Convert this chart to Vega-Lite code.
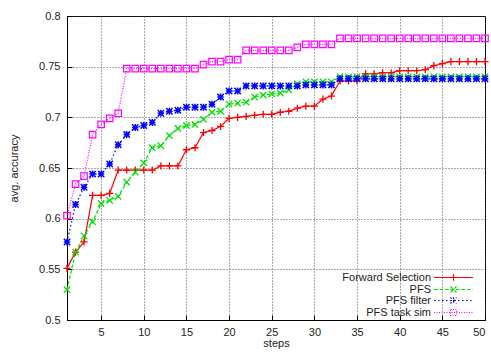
{
  "$schema": "https://vega.github.io/schema/vega-lite/v6.json",
  "width": 418,
  "height": 304,
  "autosize": "none",
  "padding": {"left": 67, "top": 16, "right": 6, "bottom": 36},
  "background": "white",
  "config": {
    "font": "Liberation Sans",
    "view": {"stroke": "black", "strokeWidth": 1},
    "axis": {
      "labelFont": "Liberation Sans",
      "labelFontSize": 11,
      "labelColor": "#222",
      "titleFont": "Liberation Sans",
      "titleFontSize": 11,
      "titleFontWeight": "normal",
      "titleColor": "#222",
      "domainColor": "black",
      "tickColor": "black",
      "tickSize": -5,
      "gridColor": "#444",
      "gridDash": [1, 2],
      "gridOpacity": 0.9,
      "gridWidth": 1
    },
    "legend": {
      "orient": "none",
      "legendX": 381,
      "legendY": 256,
      "padding": 0,
      "labelFont": "Liberation Sans",
      "labelFontSize": 11,
      "labelColor": "#222",
      "labelAlign": "right",
      "labelOffset": -28,
      "symbolOffset": 0,
      "rowPadding": -1.2,
      "symbolSize": 36,
      "symbolStrokeWidth": 1.2,
      "symbolFillColor": "transparent"
    }
  },
  "data": {
    "values": [
      {"step": 1, "series": "Forward Selection", "acc": 0.551},
      {"step": 2, "series": "Forward Selection", "acc": 0.567},
      {"step": 3, "series": "Forward Selection", "acc": 0.577},
      {"step": 4, "series": "Forward Selection", "acc": 0.623},
      {"step": 5, "series": "Forward Selection", "acc": 0.623},
      {"step": 6, "series": "Forward Selection", "acc": 0.625},
      {"step": 7, "series": "Forward Selection", "acc": 0.648},
      {"step": 8, "series": "Forward Selection", "acc": 0.648},
      {"step": 9, "series": "Forward Selection", "acc": 0.648},
      {"step": 10, "series": "Forward Selection", "acc": 0.648},
      {"step": 11, "series": "Forward Selection", "acc": 0.648},
      {"step": 12, "series": "Forward Selection", "acc": 0.652},
      {"step": 13, "series": "Forward Selection", "acc": 0.652},
      {"step": 14, "series": "Forward Selection", "acc": 0.652},
      {"step": 15, "series": "Forward Selection", "acc": 0.668},
      {"step": 16, "series": "Forward Selection", "acc": 0.670},
      {"step": 17, "series": "Forward Selection", "acc": 0.685},
      {"step": 18, "series": "Forward Selection", "acc": 0.687},
      {"step": 19, "series": "Forward Selection", "acc": 0.691},
      {"step": 20, "series": "Forward Selection", "acc": 0.699},
      {"step": 21, "series": "Forward Selection", "acc": 0.700},
      {"step": 22, "series": "Forward Selection", "acc": 0.701},
      {"step": 23, "series": "Forward Selection", "acc": 0.702},
      {"step": 24, "series": "Forward Selection", "acc": 0.703},
      {"step": 25, "series": "Forward Selection", "acc": 0.703},
      {"step": 26, "series": "Forward Selection", "acc": 0.705},
      {"step": 27, "series": "Forward Selection", "acc": 0.706},
      {"step": 28, "series": "Forward Selection", "acc": 0.709},
      {"step": 29, "series": "Forward Selection", "acc": 0.711},
      {"step": 30, "series": "Forward Selection", "acc": 0.711},
      {"step": 31, "series": "Forward Selection", "acc": 0.718},
      {"step": 32, "series": "Forward Selection", "acc": 0.721},
      {"step": 33, "series": "Forward Selection", "acc": 0.736},
      {"step": 34, "series": "Forward Selection", "acc": 0.736},
      {"step": 35, "series": "Forward Selection", "acc": 0.736},
      {"step": 36, "series": "Forward Selection", "acc": 0.743},
      {"step": 37, "series": "Forward Selection", "acc": 0.743},
      {"step": 38, "series": "Forward Selection", "acc": 0.744},
      {"step": 39, "series": "Forward Selection", "acc": 0.744},
      {"step": 40, "series": "Forward Selection", "acc": 0.746},
      {"step": 41, "series": "Forward Selection", "acc": 0.746},
      {"step": 42, "series": "Forward Selection", "acc": 0.746},
      {"step": 43, "series": "Forward Selection", "acc": 0.747},
      {"step": 44, "series": "Forward Selection", "acc": 0.751},
      {"step": 45, "series": "Forward Selection", "acc": 0.753},
      {"step": 46, "series": "Forward Selection", "acc": 0.755},
      {"step": 47, "series": "Forward Selection", "acc": 0.755},
      {"step": 48, "series": "Forward Selection", "acc": 0.755},
      {"step": 49, "series": "Forward Selection", "acc": 0.755},
      {"step": 50, "series": "Forward Selection", "acc": 0.755},

      {"step": 1, "series": "PFS", "acc": 0.530},
      {"step": 2, "series": "PFS", "acc": 0.567},
      {"step": 3, "series": "PFS", "acc": 0.583},
      {"step": 4, "series": "PFS", "acc": 0.597},
      {"step": 5, "series": "PFS", "acc": 0.615},
      {"step": 6, "series": "PFS", "acc": 0.618},
      {"step": 7, "series": "PFS", "acc": 0.622},
      {"step": 8, "series": "PFS", "acc": 0.636},
      {"step": 9, "series": "PFS", "acc": 0.646},
      {"step": 10, "series": "PFS", "acc": 0.655},
      {"step": 11, "series": "PFS", "acc": 0.670},
      {"step": 12, "series": "PFS", "acc": 0.672},
      {"step": 13, "series": "PFS", "acc": 0.682},
      {"step": 14, "series": "PFS", "acc": 0.689},
      {"step": 15, "series": "PFS", "acc": 0.692},
      {"step": 16, "series": "PFS", "acc": 0.693},
      {"step": 17, "series": "PFS", "acc": 0.698},
      {"step": 18, "series": "PFS", "acc": 0.705},
      {"step": 19, "series": "PFS", "acc": 0.706},
      {"step": 20, "series": "PFS", "acc": 0.713},
      {"step": 21, "series": "PFS", "acc": 0.714},
      {"step": 22, "series": "PFS", "acc": 0.715},
      {"step": 23, "series": "PFS", "acc": 0.720},
      {"step": 24, "series": "PFS", "acc": 0.722},
      {"step": 25, "series": "PFS", "acc": 0.723},
      {"step": 26, "series": "PFS", "acc": 0.724},
      {"step": 27, "series": "PFS", "acc": 0.727},
      {"step": 28, "series": "PFS", "acc": 0.733},
      {"step": 29, "series": "PFS", "acc": 0.735},
      {"step": 30, "series": "PFS", "acc": 0.735},
      {"step": 31, "series": "PFS", "acc": 0.735},
      {"step": 32, "series": "PFS", "acc": 0.735},
      {"step": 33, "series": "PFS", "acc": 0.740},
      {"step": 34, "series": "PFS", "acc": 0.740},
      {"step": 35, "series": "PFS", "acc": 0.740},
      {"step": 36, "series": "PFS", "acc": 0.740},
      {"step": 37, "series": "PFS", "acc": 0.740},
      {"step": 38, "series": "PFS", "acc": 0.740},
      {"step": 39, "series": "PFS", "acc": 0.740},
      {"step": 40, "series": "PFS", "acc": 0.740},
      {"step": 41, "series": "PFS", "acc": 0.740},
      {"step": 42, "series": "PFS", "acc": 0.740},
      {"step": 43, "series": "PFS", "acc": 0.740},
      {"step": 44, "series": "PFS", "acc": 0.740},
      {"step": 45, "series": "PFS", "acc": 0.740},
      {"step": 46, "series": "PFS", "acc": 0.740},
      {"step": 47, "series": "PFS", "acc": 0.740},
      {"step": 48, "series": "PFS", "acc": 0.740},
      {"step": 49, "series": "PFS", "acc": 0.740},
      {"step": 50, "series": "PFS", "acc": 0.740},

      {"step": 1, "series": "PFS filter", "acc": 0.577},
      {"step": 2, "series": "PFS filter", "acc": 0.614},
      {"step": 3, "series": "PFS filter", "acc": 0.631},
      {"step": 4, "series": "PFS filter", "acc": 0.644},
      {"step": 5, "series": "PFS filter", "acc": 0.644},
      {"step": 6, "series": "PFS filter", "acc": 0.654},
      {"step": 7, "series": "PFS filter", "acc": 0.673},
      {"step": 8, "series": "PFS filter", "acc": 0.683},
      {"step": 9, "series": "PFS filter", "acc": 0.690},
      {"step": 10, "series": "PFS filter", "acc": 0.692},
      {"step": 11, "series": "PFS filter", "acc": 0.695},
      {"step": 12, "series": "PFS filter", "acc": 0.704},
      {"step": 13, "series": "PFS filter", "acc": 0.706},
      {"step": 14, "series": "PFS filter", "acc": 0.707},
      {"step": 15, "series": "PFS filter", "acc": 0.710},
      {"step": 16, "series": "PFS filter", "acc": 0.710},
      {"step": 17, "series": "PFS filter", "acc": 0.710},
      {"step": 18, "series": "PFS filter", "acc": 0.713},
      {"step": 19, "series": "PFS filter", "acc": 0.720},
      {"step": 20, "series": "PFS filter", "acc": 0.726},
      {"step": 21, "series": "PFS filter", "acc": 0.726},
      {"step": 22, "series": "PFS filter", "acc": 0.731},
      {"step": 23, "series": "PFS filter", "acc": 0.731},
      {"step": 24, "series": "PFS filter", "acc": 0.731},
      {"step": 25, "series": "PFS filter", "acc": 0.731},
      {"step": 26, "series": "PFS filter", "acc": 0.731},
      {"step": 27, "series": "PFS filter", "acc": 0.731},
      {"step": 28, "series": "PFS filter", "acc": 0.731},
      {"step": 29, "series": "PFS filter", "acc": 0.732},
      {"step": 30, "series": "PFS filter", "acc": 0.732},
      {"step": 31, "series": "PFS filter", "acc": 0.732},
      {"step": 32, "series": "PFS filter", "acc": 0.732},
      {"step": 33, "series": "PFS filter", "acc": 0.738},
      {"step": 34, "series": "PFS filter", "acc": 0.738},
      {"step": 35, "series": "PFS filter", "acc": 0.738},
      {"step": 36, "series": "PFS filter", "acc": 0.738},
      {"step": 37, "series": "PFS filter", "acc": 0.738},
      {"step": 38, "series": "PFS filter", "acc": 0.738},
      {"step": 39, "series": "PFS filter", "acc": 0.738},
      {"step": 40, "series": "PFS filter", "acc": 0.738},
      {"step": 41, "series": "PFS filter", "acc": 0.738},
      {"step": 42, "series": "PFS filter", "acc": 0.738},
      {"step": 43, "series": "PFS filter", "acc": 0.738},
      {"step": 44, "series": "PFS filter", "acc": 0.738},
      {"step": 45, "series": "PFS filter", "acc": 0.738},
      {"step": 46, "series": "PFS filter", "acc": 0.738},
      {"step": 47, "series": "PFS filter", "acc": 0.738},
      {"step": 48, "series": "PFS filter", "acc": 0.738},
      {"step": 49, "series": "PFS filter", "acc": 0.738},
      {"step": 50, "series": "PFS filter", "acc": 0.738},

      {"step": 1, "series": "PFS task sim", "acc": 0.603},
      {"step": 2, "series": "PFS task sim", "acc": 0.634},
      {"step": 3, "series": "PFS task sim", "acc": 0.642},
      {"step": 4, "series": "PFS task sim", "acc": 0.683},
      {"step": 5, "series": "PFS task sim", "acc": 0.693},
      {"step": 6, "series": "PFS task sim", "acc": 0.699},
      {"step": 7, "series": "PFS task sim", "acc": 0.704},
      {"step": 8, "series": "PFS task sim", "acc": 0.748},
      {"step": 9, "series": "PFS task sim", "acc": 0.748},
      {"step": 10, "series": "PFS task sim", "acc": 0.748},
      {"step": 11, "series": "PFS task sim", "acc": 0.748},
      {"step": 12, "series": "PFS task sim", "acc": 0.748},
      {"step": 13, "series": "PFS task sim", "acc": 0.748},
      {"step": 14, "series": "PFS task sim", "acc": 0.748},
      {"step": 15, "series": "PFS task sim", "acc": 0.748},
      {"step": 16, "series": "PFS task sim", "acc": 0.748},
      {"step": 17, "series": "PFS task sim", "acc": 0.752},
      {"step": 18, "series": "PFS task sim", "acc": 0.755},
      {"step": 19, "series": "PFS task sim", "acc": 0.755},
      {"step": 20, "series": "PFS task sim", "acc": 0.757},
      {"step": 21, "series": "PFS task sim", "acc": 0.757},
      {"step": 22, "series": "PFS task sim", "acc": 0.766},
      {"step": 23, "series": "PFS task sim", "acc": 0.766},
      {"step": 24, "series": "PFS task sim", "acc": 0.766},
      {"step": 25, "series": "PFS task sim", "acc": 0.766},
      {"step": 26, "series": "PFS task sim", "acc": 0.766},
      {"step": 27, "series": "PFS task sim", "acc": 0.766},
      {"step": 28, "series": "PFS task sim", "acc": 0.769},
      {"step": 29, "series": "PFS task sim", "acc": 0.772},
      {"step": 30, "series": "PFS task sim", "acc": 0.772},
      {"step": 31, "series": "PFS task sim", "acc": 0.772},
      {"step": 32, "series": "PFS task sim", "acc": 0.772},
      {"step": 33, "series": "PFS task sim", "acc": 0.778},
      {"step": 34, "series": "PFS task sim", "acc": 0.778},
      {"step": 35, "series": "PFS task sim", "acc": 0.778},
      {"step": 36, "series": "PFS task sim", "acc": 0.778},
      {"step": 37, "series": "PFS task sim", "acc": 0.778},
      {"step": 38, "series": "PFS task sim", "acc": 0.778},
      {"step": 39, "series": "PFS task sim", "acc": 0.778},
      {"step": 40, "series": "PFS task sim", "acc": 0.778},
      {"step": 41, "series": "PFS task sim", "acc": 0.778},
      {"step": 42, "series": "PFS task sim", "acc": 0.778},
      {"step": 43, "series": "PFS task sim", "acc": 0.778},
      {"step": 44, "series": "PFS task sim", "acc": 0.778},
      {"step": 45, "series": "PFS task sim", "acc": 0.778},
      {"step": 46, "series": "PFS task sim", "acc": 0.778},
      {"step": 47, "series": "PFS task sim", "acc": 0.778},
      {"step": 48, "series": "PFS task sim", "acc": 0.778},
      {"step": 49, "series": "PFS task sim", "acc": 0.778},
      {"step": 50, "series": "PFS task sim", "acc": 0.778}
    ]
  },
  "encoding": {
    "x": {
      "field": "step",
      "type": "quantitative",
      "scale": {"domain": [1, 50], "nice": false, "zero": false},
      "axis": {
        "title": "steps",
        "values": [5, 10, 15, 20, 25, 30, 35, 40, 45, 50],
        "labelPadding": 11,
        "titlePadding": 0,
        "grid": true
      }
    },
    "y": {
      "field": "acc",
      "type": "quantitative",
      "scale": {"domain": [0.5, 0.8], "nice": false, "zero": false},
      "axis": {
        "title": "avg. accuracy",
        "values": [0.5, 0.55, 0.6, 0.65, 0.7, 0.75, 0.8],
        "format": ".2~f",
        "labelPadding": 12,
        "titlePadding": 19,
        "grid": true
      }
    },
    "color": {
      "field": "series",
      "type": "nominal",
      "scale": {
        "domain": ["Forward Selection", "PFS", "PFS filter", "PFS task sim"],
        "range": ["#ff0000", "#00e000", "#0000ff", "#ff00ff"]
      },
      "legend": {
        "title": null,
        "symbolType": "M-6.5,0H6.5",
        "encode": {
          "symbols": {
            "update": {
              "shape": {"signal": "datum.value === 'Forward Selection' ? 'M-6.5,0H6.5M0,-1.1V1.1' : datum.value === 'PFS' ? 'M-6.5,0H6.5M-1,-1L1,1M-1,1L1,-1' : datum.value === 'PFS filter' ? 'M-6.5,0H6.5M-1,0H1M0,-1.1V1.1M-1,-1L1,1M-1,1L1,-1' : 'M-6.5,0H6.5M-1,-1H1V1H-1Z'"},
              "fill": {"value": "transparent"}
            }
          }
        }
      }
    },
    "strokeDash": {
      "field": "series",
      "type": "nominal",
      "scale": {
        "domain": ["Forward Selection", "PFS", "PFS filter", "PFS task sim"],
        "range": [[1, 0], [3.5, 2], [1.5, 2.5], [1, 1.5]]
      },
      "legend": {"title": null}
    }
  },
  "layer": [
    {
      "mark": {"type": "line", "strokeWidth": 1.2}
    },
    {
      "transform": [{"filter": {"field": "series", "equal": "Forward Selection"}}],
      "mark": {"type": "point", "shape": "M-1.1,0H1.1M0,-1.1V1.1", "filled": false, "size": 42, "strokeWidth": 1.3, "opacity": 1},
      "encoding": {"strokeDash": {"value": [1, 0]}}
    },
    {
      "transform": [{"filter": {"field": "series", "equal": "PFS"}}],
      "mark": {"type": "point", "shape": "M-1,-1L1,1M-1,1L1,-1", "filled": false, "size": 40, "strokeWidth": 1.3, "opacity": 1},
      "encoding": {"strokeDash": {"value": [1, 0]}}
    },
    {
      "transform": [{"filter": {"field": "series", "equal": "PFS filter"}}],
      "mark": {"type": "point", "shape": "M-1,0H1M0,-1.1V1.1M-1,-1L1,1M-1,1L1,-1", "filled": false, "size": 40, "strokeWidth": 1.5, "opacity": 1},
      "encoding": {"strokeDash": {"value": [1, 0]}}
    },
    {
      "transform": [{"filter": {"field": "series", "equal": "PFS task sim"}}],
      "mark": {"type": "point", "shape": "square", "filled": false, "size": 42, "strokeWidth": 1.2, "opacity": 1},
      "encoding": {"strokeDash": {"value": [1, 0]}}
    }
  ]
}
